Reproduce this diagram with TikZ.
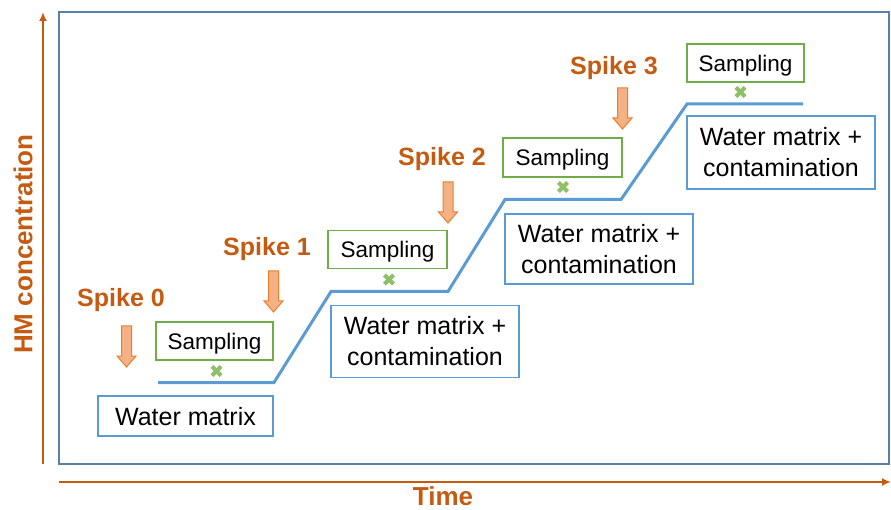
\documentclass[tikz,border=0pt]{standalone}
\usepackage{fontspec}
\setmainfont{Liberation Sans}
\usetikzlibrary{arrows.meta}
\definecolor{axisor}{HTML}{C55A11}
\definecolor{frameblue}{HTML}{5A7FAA}
\definecolor{lineblue}{HTML}{5B9BD5}
\definecolor{boxgreen}{HTML}{70AD47}
\definecolor{crossgreen}{HTML}{8CC168}
\definecolor{arrfill}{HTML}{F4B183}
\definecolor{arrdraw}{HTML}{ED7D31}
\tikzset{
  sampbox/.style={draw=boxgreen, line width=1.2pt, fill=white, minimum width=117pt, minimum height=38pt, inner sep=0pt, text depth=0pt, font=\fontsize{22.5pt}{26pt}\selectfont},
  waterbox/.style={draw=lineblue, line width=1.2pt, fill=white, inner sep=0pt, align=center, font=\fontsize{25pt}{31pt}\selectfont},
  spikelbl/.style={text=axisor, font=\fontsize{25pt}{30pt}\selectfont\bfseries, inner sep=0pt},
  axislbl/.style={text=axisor, font=\fontsize{26pt}{30pt}\selectfont\bfseries, inner sep=0pt},
  levelline/.style={draw=lineblue, line width=3pt, line join=miter},
  crossmark/.style={draw=crossgreen, line width=4pt},
  blockarrow/.style={fill=arrfill, draw=arrdraw, line width=1pt, line join=miter},
}
\begin{document}
\begin{tikzpicture}[x=1pt,y=-1pt]
\useasboundingbox (0,0) rectangle (891,510);
% frame
\draw[frameblue, line width=1.3pt] (59,12) rectangle (889,464);
% axes
\coordinate (yb) at (43,464); \coordinate (yt) at (43,12);
\coordinate (xl) at (59,482); \coordinate (xr) at (891,482);
\draw[axisor, line width=2pt, -{Latex[length=9pt,width=8pt]}] (yb) -- (yt);
\draw[axisor, line width=2pt, -{Latex[length=9pt,width=8pt]}] (xl) -- (xr);
\node[axislbl, rotate=90] (ylab) at (23,244) {HM concentration};
\node[axislbl] (xlab) at (443,496) {Time};
% level line
\coordinate (l0) at (158,382.5);
\coordinate (l1) at (274,382.5);
\coordinate (l2) at (331,291.5);
\coordinate (l3) at (448,291.5);
\coordinate (l4) at (505,199.5);
\coordinate (l5) at (621,199.5);
\coordinate (l6) at (687,104);
\coordinate (l7) at (803,104);
\draw[levelline] (l0) -- (l1) -- (l2) -- (l3) -- (l4) -- (l5) -- (l6) -- (l7);
% sampling boxes
\node[sampbox] (s1) at (214.5,341) {Sampling};
\node[sampbox, minimum width=119pt] (s2) at (387.5,249.5) {Sampling};
\node[sampbox, minimum width=119pt, minimum height=39pt] (s3) at (562.5,157.5) {Sampling};
\node[sampbox] (s4) at (745.5,63) {Sampling};
% crosses
\foreach \cx/\cy in {216.5/371, 389/279.5, 563/187, 740.5/92}{
  \draw[crossmark] (\cx-4.6,\cy-4.6) -- (\cx+4.6,\cy+4.6);
  \draw[crossmark] (\cx-4.6,\cy+4.6) -- (\cx+4.6,\cy-4.6);
}
% water boxes
\node[waterbox, minimum width=175pt, minimum height=40pt, text depth=0pt] (w0) at (185.5,416) {Water matrix};
\node[waterbox, minimum width=188pt, minimum height=72pt] (w1) at (425,341.5) {Water matrix +\\contamination};
\node[waterbox, minimum width=188pt, minimum height=70pt] (w2) at (599,249) {Water matrix +\\contamination};
\node[waterbox, minimum width=188pt, minimum height=73pt] (w3) at (781,152.5) {Water matrix +\\contamination};
% spike labels
\node[spikelbl] (sp0) at (121,300) {Spike 0};
\node[spikelbl] (sp1) at (267,249) {Spike 1};
\node[spikelbl] (sp2) at (442,159) {Spike 2};
\node[spikelbl] (sp3) at (614,68) {Spike 3};
% block arrows
\foreach \ax/\ay in {126.5/326, 273.5/271, 448/182, 622.5/88}{
  \draw[blockarrow] (\ax-5,\ay) -- (\ax+5,\ay) -- (\ax+5,\ay+30) -- (\ax+9.5,\ay+30)
     -- (\ax,\ay+41) -- (\ax-9.5,\ay+30) -- (\ax-5,\ay+30) -- cycle;
}
\end{tikzpicture}
\end{document}
